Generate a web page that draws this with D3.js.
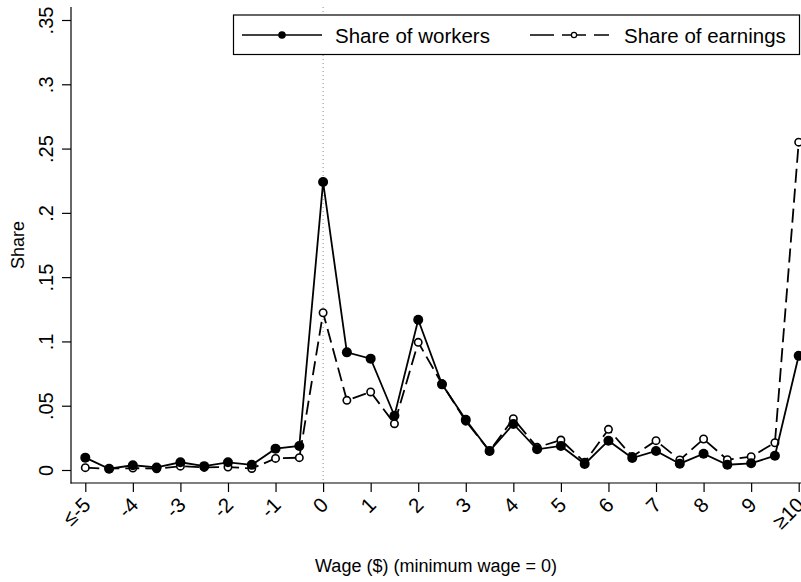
<!DOCTYPE html>
<html>
<head>
<meta charset="utf-8">
<script src="https://cdn.jsdelivr.net/npm/d3@7"></script>
<style>
  html, body { margin: 0; padding: 0; background: #fff; }
  svg { display: block; font-family: "Liberation Sans", Arial, sans-serif; }
</style>
</head>
<body>
<svg id="chart" width="801" height="582"></svg>
<script>
// ---- data ----
const wage = [-5, -4.5, -4, -3.5, -3, -2.5, -2, -1.5, -1, -0.5,
              0, 0.5, 1, 1.5, 2, 2.5, 3, 3.5, 4, 4.5,
              5, 5.5, 6, 6.5, 7, 7.5, 8, 8.5, 9, 9.5, 10];
const shareWorkers = [0.0096, 0.0010, 0.0037, 0.0020, 0.0060, 0.0030, 0.0060, 0.0040, 0.0166, 0.0187,
                      0.2240, 0.0915, 0.0866, 0.0422, 0.1169, 0.0666, 0.0391, 0.0148, 0.0358, 0.0161,
                      0.0187, 0.0047, 0.0228, 0.0093, 0.0148, 0.0049, 0.0127, 0.0041, 0.0052, 0.0111, 0.0889];
const shareEarnings = [0.0018, 0.0010, 0.0015, 0.0010, 0.0030, 0.0020, 0.0023, 0.0012, 0.0090, 0.0096,
                       0.1223, 0.0542, 0.0607, 0.0360, 0.0993, 0.0670, 0.0380, 0.0148, 0.0399, 0.0176,
                       0.0233, 0.0060, 0.0316, 0.0105, 0.0228, 0.0078, 0.0241, 0.0080, 0.0104, 0.0212, 0.2550];
const xTickValues = [-5, -4, -3, -2, -1, 0, 1, 2, 3, 4, 5, 6, 7, 8, 9, 10];
const xTickLabels = ["\u2264-5", "-4", "-3", "-2", "-1", "0", "1", "2", "3", "4", "5", "6", "7", "8", "9", "\u226510"];
const yTickValues = [0, 0.05, 0.1, 0.15, 0.2, 0.25, 0.3, 0.35];
const yTickLabels = ["0", ".05", ".1", ".15", ".2", ".25", ".3", ".35"];
const seriesNames = ["Share of workers", "Share of earnings"];

// ---- layout ----
const svg = d3.select("#chart");
const axisX = 71, axisY = 483, topY = 7, rightX = 801;
const x = d3.scaleLinear().domain([-5, 10]).range([85.3, 798.7]);
const y = d3.scaleLinear().domain([0, 0.35]).range([470, 20]);

// y axis
const yAxis = d3.axisLeft(y).tickValues(yTickValues)
  .tickFormat((d, i) => yTickLabels[i]).tickSize(9).tickSizeOuter(0);
const gy = svg.append("g").attr("transform", `translate(${axisX},0)`).call(yAxis);
gy.select(".domain").remove();
gy.selectAll(".tick line").attr("stroke", "#000").attr("stroke-width", 1.2);
gy.selectAll(".tick text")
  .attr("font-size", 20).attr("fill", "#000")
  .attr("text-anchor", "middle")
  .attr("transform", "translate(-18,0) rotate(-90)")
  .attr("x", 0).attr("dy", 0).attr("y", 0);
svg.append("line").attr("x1", axisX).attr("x2", axisX).attr("y1", topY).attr("y2", axisY + 0.5)
  .attr("stroke", "#000").attr("stroke-width", 1.2);

// x axis
const xAxis = d3.axisBottom(x).tickValues(xTickValues)
  .tickFormat((d, i) => xTickLabels[i]).tickSize(9).tickSizeOuter(0);
const gx = svg.append("g").attr("transform", `translate(0,${axisY})`).call(xAxis);
gx.select(".domain").remove();
gx.selectAll(".tick line").attr("stroke", "#000").attr("stroke-width", 1.2);
gx.selectAll(".tick text")
  .attr("font-size", 20.5).attr("fill", "#000")
  .attr("text-anchor", "end")
  .attr("x", 0).attr("y", 0).attr("dy", "0.35em")
  .attr("transform", "translate(1,18) rotate(-45)");
svg.append("line").attr("x1", axisX - 0.5).attr("x2", rightX).attr("y1", axisY).attr("y2", axisY)
  .attr("stroke", "#000").attr("stroke-width", 1.2);

// reference line at 0
svg.append("line").attr("x1", x(0)).attr("x2", x(0)).attr("y1", topY).attr("y2", axisY)
  .attr("stroke", "#8a8a8a").attr("stroke-width", 1).attr("stroke-dasharray", "1,3");

// axis titles
svg.append("text").attr("transform", "translate(18,245) rotate(-90)")
  .attr("text-anchor", "middle").attr("dominant-baseline", "central")
  .attr("font-size", 18).text("Share");
svg.append("text").attr("x", 436).attr("y", 566)
  .attr("text-anchor", "middle").attr("dominant-baseline", "central")
  .attr("font-size", 18).text("Wage ($) (minimum wage = 0)");

// series
const lineGen = d3.line().x(d => x(d[0])).y(d => y(d[1]));
const earnPts = wage.map((w, i) => [w, shareEarnings[i]]);
const workPts = wage.map((w, i) => [w, shareWorkers[i]]);

svg.append("path").datum(earnPts).attr("d", lineGen)
  .attr("fill", "none").attr("stroke", "#000").attr("stroke-width", 1.8)
  .attr("stroke-dasharray", "14,6");
svg.selectAll("circle.earn").data(earnPts).enter().append("circle")
  .attr("class", "earn").attr("cx", d => x(d[0])).attr("cy", d => y(d[1])).attr("r", 3.7)
  .attr("fill", "#fff").attr("stroke", "#000").attr("stroke-width", 1.6);

svg.append("path").datum(workPts).attr("d", lineGen)
  .attr("fill", "none").attr("stroke", "#000").attr("stroke-width", 1.8);
svg.selectAll("circle.work").data(workPts).enter().append("circle")
  .attr("class", "work").attr("cx", d => x(d[0])).attr("cy", d => y(d[1])).attr("r", 5)
  .attr("fill", "#000");

// legend
const lg = svg.append("g");
lg.append("rect").attr("x", 233.5).attr("y", 15).attr("width", 566).attr("height", 39.5)
  .attr("fill", "#fff").attr("stroke", "#000").attr("stroke-width", 1.2);
const ly = 35;
lg.append("line").attr("x1", 242).attr("x2", 322).attr("y1", ly).attr("y2", ly)
  .attr("stroke", "#000").attr("stroke-width", 1.6);
lg.append("circle").attr("cx", 282).attr("cy", ly).attr("r", 3.8).attr("fill", "#000");
lg.append("text").attr("x", 335).attr("y", ly).attr("dominant-baseline", "central")
  .attr("font-size", 20.5).text(seriesNames[0]);
lg.append("line").attr("x1", 530).attr("x2", 609).attr("y1", ly).attr("y2", ly)
  .attr("stroke", "#000").attr("stroke-width", 1.6).attr("stroke-dasharray", "24,8");
lg.append("circle").attr("cx", 574).attr("cy", ly).attr("r", 2.6)
  .attr("fill", "#fff").attr("stroke", "#000").attr("stroke-width", 1.2);
lg.append("text").attr("x", 624).attr("y", ly).attr("dominant-baseline", "central")
  .attr("font-size", 20.5).text(seriesNames[1]);
</script>
</body>
</html>
